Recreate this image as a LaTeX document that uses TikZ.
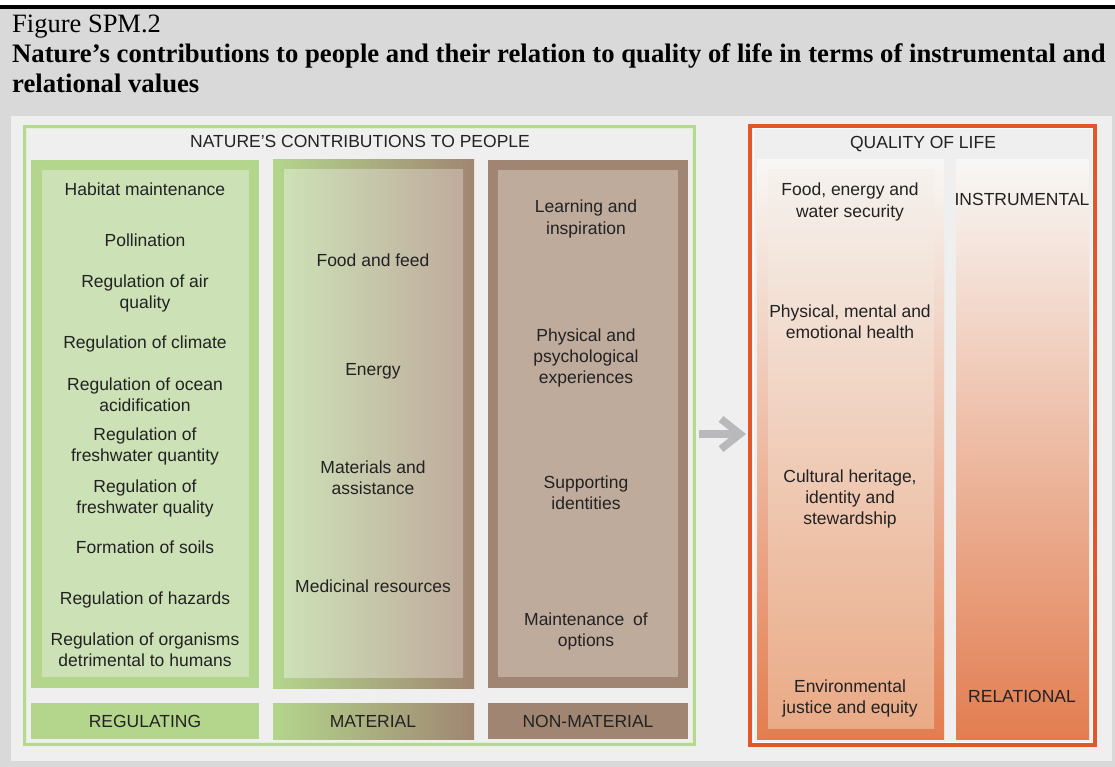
\documentclass[tikz,border=0pt]{standalone}
\usepackage{fontspec}
\setmainfont{Liberation Serif}
\setsansfont{Liberation Sans}
\definecolor{bggray}{HTML}{D9D9D9}
\definecolor{panel}{HTML}{EEEFEE}
\definecolor{frameG}{HTML}{B5D98E}
\definecolor{frameO}{HTML}{E2562A}
\definecolor{regO}{HTML}{B4D58C}
\definecolor{regI}{HTML}{CDE1B7}
\definecolor{nonO}{HTML}{A08672}
\definecolor{nonI}{HTML}{BFAB9C}
\definecolor{qTop}{HTML}{F8F7F5}
\definecolor{qBot}{HTML}{E27D50}
\definecolor{qiTop}{HTML}{F5F1ED}
\definecolor{qiBot}{HTML}{EAAA86}
\definecolor{arrowG}{HTML}{B9B9BB}
\definecolor{txtc}{HTML}{222222}
\tikzset{
  lbl/.style={font=\sffamily\fontsize{17.5}{21.2}\selectfont, text=txtc, align=center, inner sep=0pt, anchor=base},
  ttl/.style={font=\fontsize{26.5}{30}\selectfont, align=left, inner sep=0pt, anchor=base west},
  conn/.style={draw=arrowG, line width=7.5pt},
}
\begin{document}
\begin{tikzpicture}[x=1pt,y=-1pt]
\useasboundingbox (0,0) rectangle (1115,767);
\fill[white] (0,0) rectangle (1115,767);
\fill[bggray] (0,9) rectangle (1115,767);
\fill[black] (0,5) rectangle (1115,9);
\fill[panel] (11,116) rectangle (1112,761);

% titles (base anchor of a multi-line node = last line's baseline)
\node[ttl] (fig) at (12,33) {Figure SPM.2};
\node[ttl, font=\fontsize{26.7}{30}\selectfont\bfseries] (head) at (12,93) {Nature’s contributions to people and their relation to quality of life in terms of instrumental and\\relational values};

% NCP frame
\draw[frameG, line width=3pt] (24.5,126.5) rectangle (694.5,744.5);
\draw[white!60!frameG, line width=0.8pt] (26.8,128.8) rectangle (692.2,742.2);
% QoL frame
\draw[frameO, line width=4pt] (750,126) rectangle (1095,745);
\draw[white, line width=1pt] (753,129) rectangle (1092,742);

% columns
\fill[regO] (31,160) rectangle (259,688);
\fill[regI] (42,170) rectangle (249,677);
\fill[left color=regO, right color=nonO] (273,160) rectangle (474,688);
\fill[left color=regI, right color=nonI] (284,170) rectangle (463,677);
\fill[nonO] (488,160) rectangle (688,688);
\fill[nonI] (498,170) rectangle (678,677);
\fill[regO] (31,703) rectangle (259,739);
\fill[left color=regO, right color=nonO] (273,703) rectangle (474,739);
\fill[nonO] (488,703) rectangle (688,739);

\fill[top color=qTop, bottom color=qBot] (757,160) rectangle (944,739);
\fill[top color=qiTop, bottom color=qiBot] (768,170) rectangle (934,728);
\fill[top color=qTop, bottom color=qBot] (956,160) rectangle (1089,739);

% headers
\node[lbl] (ncp) at (360,148) {NATURE’S CONTRIBUTIONS TO PEOPLE};
\node[lbl] (qol) at (923,149) {QUALITY OF LIFE};

% regulating
\node[lbl] (r1) at (145,196) {Habitat maintenance};
\node[lbl] (r2) at (145,247) {Pollination};
\node[lbl] (r3) at (145,308.2) {Regulation of air\\quality};
\node[lbl] (r4) at (145,348) {Regulation of climate};
\node[lbl] (r5) at (145,411.2) {Regulation of ocean\\acidification};
\node[lbl] (r6) at (145,461.2) {Regulation of\\freshwater quantity};
\node[lbl] (r7) at (145,513.2) {Regulation of\\freshwater quality};
\node[lbl] (r8) at (145,553) {Formation of soils};
\node[lbl] (r9) at (145,604) {Regulation of hazards};
\node[lbl] (r10) at (145,666.2) {Regulation of organisms\\detrimental to humans};

% material
\node[lbl] (m1) at (373,266) {Food and feed};
\node[lbl] (m2) at (373,375) {Energy};
\node[lbl] (m3) at (373,494.2) {Materials and\\assistance};
\node[lbl] (m4) at (373,592) {Medicinal resources};

% non-material
\node[lbl] (n1) at (586,234.2) {Learning and\\inspiration};
\node[lbl] (n2) at (586,383.4) {Physical and\\psychological\\experiences};
\node[lbl] (n3) at (586,509.2) {Supporting\\identities};
\node[lbl] (n4) at (586,646.2) {Maintenance\hspace{4pt} of\\options};

% bottom labels
\node[lbl] (b1) at (145,727) {REGULATING};
\node[lbl] (b2) at (373,727) {MATERIAL};
\node[lbl] (b3) at (588,727) {NON-MATERIAL};

% quality of life
\node[lbl] (q1) at (850,217.2) {Food, energy and\\water security};
\node[lbl] (q2) at (850,338.2) {Physical, mental and\\emotional health};
\node[lbl] (q3) at (850,524.4) {Cultural heritage,\\identity and\\stewardship};
\node[lbl] (q4) at (850,713.2) {Environmental\\justice and equity};
\node[lbl] (inst) at (1022,206) {INSTRUMENTAL};
\node[lbl] (rel) at (1022,702) {RELATIONAL};

% arrow
\coordinate (arrS) at (699,434);
\coordinate (arrE) at (740,434);
\draw[conn] (arrS) -- (arrE);
\draw[conn, miter limit=10, line join=miter] (arrE) ++(-19,-15) -- (arrE) -- ++(-19,15);
\end{tikzpicture}
\end{document}
